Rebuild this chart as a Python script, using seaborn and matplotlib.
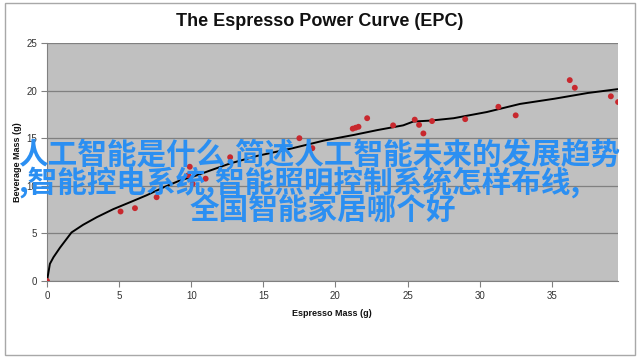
import matplotlib
matplotlib.use("Agg")
import matplotlib.pyplot as plt
import seaborn as sns
import pandas as pd
from matplotlib.patches import Rectangle

# measured shots (red points)
shot_mass = [0.0, 5.1, 6.1, 7.6, 9.8, 9.9, 10.1, 11.0, 12.7, 17.5, 18.4,
             21.2, 21.4, 21.6, 22.2, 24.0, 25.5, 25.8, 26.1, 26.7, 29.0,
             31.3, 32.5, 36.25, 36.6, 39.1, 39.6]
shot_yield = [0.0, 7.3, 7.65, 8.8, 11.1, 12.0, 10.2, 10.75, 13.0, 15.0, 13.95,
              16.0, 16.1, 16.2, 17.1, 16.35, 16.95, 16.4, 15.5, 16.8, 17.0,
              18.3, 17.4, 21.1, 20.3, 19.4, 18.8]

# power curve (black line)
curve_mass = [0.0, 0.2, 0.45, 0.9, 1.7, 2.5, 3.45, 4.6, 5.8, 6.9, 8.1, 9.2,
              10.2, 11.3, 12.7, 14.6, 16.9, 19.2, 21.3, 22.9, 24.7, 25.4,
              26.6, 28.2, 30.5, 32.8, 35.2, 37.5, 39.56]
curve_yield = [0.0, 1.8, 2.5, 3.5, 5.1, 5.9, 6.7, 7.55, 8.3, 9.0, 9.85, 10.55,
               11.0, 11.6, 12.35, 13.15, 13.9, 14.75, 15.35, 15.85, 16.35, 16.75,
               16.85, 17.1, 17.75, 18.6, 19.15, 19.75, 20.15]

x_ticks = [0, 5, 10, 15, 20, 25, 30, 35]
y_ticks = [0, 5, 10, 15, 20, 25]

title = "The Espresso Power Curve (EPC)"
x_label = "Espresso Mass (g)"
y_label = "Beverage Mass (g)"
overlay_lines = ["人工智能是什么,简述人工智能未来的发展趋势",
                 ",智能控电系统,智能照明控制系统怎样布线,",
                 "全国智能家居哪个好"]

shots = pd.DataFrame({"mass": shot_mass, "yield": shot_yield})
curve = pd.DataFrame({"mass": curve_mass, "yield": curve_yield})

fig = plt.figure(figsize=(6.4, 3.58), dpi=100)
fig.patch.set_facecolor("white")
fig.add_artist(Rectangle((5 / 640, 3 / 358), 630 / 640, 352 / 358,
                         transform=fig.transFigure, fill=False,
                         edgecolor="#a8a8a8", linewidth=1.0))

ax = fig.add_axes([47 / 640, 1 - 281 / 358, 570.5 / 640, 238 / 358])
ax.set_facecolor("#c0c0c0")

sns.lineplot(data=curve, x="mass", y="yield", ax=ax, color="black",
             linewidth=1.4, sort=False, zorder=3)
sns.scatterplot(data=shots, x="mass", y="yield", ax=ax, color="#c8282e",
                s=18, edgecolor="none", zorder=4)

ax.set_xlim(0, 39.56)
ax.set_ylim(0, 25)
ax.set_xticks(x_ticks)
ax.set_yticks(y_ticks)
ax.set_xticklabels([str(t) for t in x_ticks], family="Liberation Sans",
                   fontsize=7, color="#333333")
ax.set_yticklabels([str(t) for t in y_ticks], family="Liberation Sans",
                   fontsize=7, color="#333333")
ax.tick_params(axis="both", direction="out", length=4, width=0.8,
               color="#808080", pad=3)
ax.grid(axis="y", color="#808080", linewidth=0.9)
ax.grid(axis="x", visible=False)
ax.set_axisbelow(True)
for side in ["top", "right"]:
    ax.spines[side].set_visible(False)
ax.spines["left"].set_color("#808080")
ax.spines["bottom"].set_color("#808080")

ax.set_xlabel(x_label, family="Liberation Sans", fontsize=6.5,
              fontweight="bold", color="#111111", labelpad=6)
ax.set_ylabel(y_label, family="Liberation Sans", fontsize=6.5,
              fontweight="bold", color="#111111", labelpad=3)

fig.text(0.5, 1 - 22 / 358, title, ha="center", va="center",
         family="Liberation Sans", fontsize=13, fontweight="bold",
         color="#111111")

cjk = ["Noto Sans CJK SC", "DejaVu Sans"]
blue = "#2b8ff2"
fig.text(18 / 640, 1 - 154 / 358, overlay_lines[0], ha="left", va="center",
         family=cjk, fontsize=21.3, fontweight="bold", color=blue)
fig.text(18 / 640, 1 - 182 / 358, overlay_lines[1], ha="left", va="center",
         family=cjk, fontsize=21.3, fontweight="bold", color=blue)
fig.text(190 / 640, 1 - 210 / 358, overlay_lines[2], ha="left", va="center",
         family=cjk, fontsize=21.3, fontweight="bold", color=blue)

fig.savefig("out.png", dpi=100)
